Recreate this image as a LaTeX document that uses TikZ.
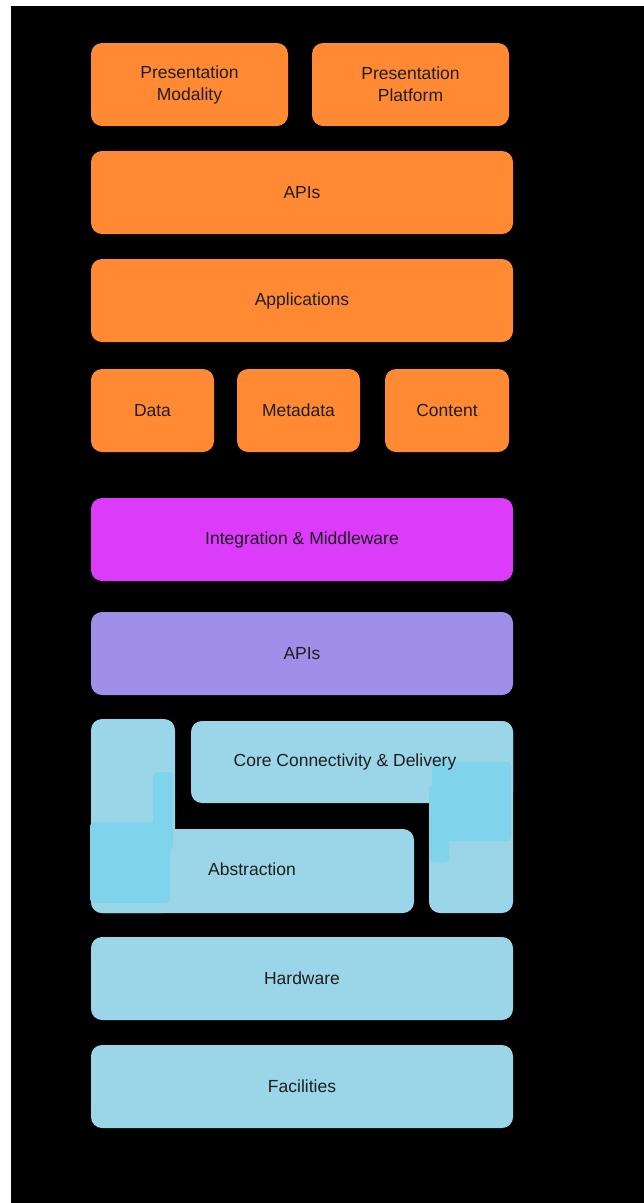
\documentclass[tikz,border=0pt]{standalone}
\usepackage{fontspec}
\setmainfont{Liberation Sans}
\definecolor{orng}{HTML}{FF8A33}
\definecolor{mgnt}{HTML}{DC3CFA}
\definecolor{prpl}{HTML}{A08FE8}
\definecolor{lblue}{HTML}{9BD5E8}
\definecolor{cyanp}{HTML}{7FD3EA}
\definecolor{txt}{HTML}{1E1E1E}
\tikzset{
  box/.style={rectangle, rounded corners=11pt, minimum height=83pt, inner sep=0pt,
    align=center, text=txt, font=\fontsize{17.5}{22}\selectfont},
  wide/.style={box, minimum width=422pt},
  lbl/.style={text=txt, inner sep=0pt, font=\fontsize{17.5}{22}\selectfont},
  patch/.style={fill=cyanp, rounded corners=4pt}
}
\begin{document}
\begin{tikzpicture}[x=1pt,y=-1pt]
\useasboundingbox (0,0) rectangle (644,1203);
\fill[white] (0,0) rectangle (644,1203);
\fill[black] (11,6) rectangle (644,1203);
% orange layer
\node[box, fill=orng, minimum width=197pt] (pm) at (189.5,84.5) {Presentation\\Modality};
\node[box, fill=orng, minimum width=197pt] (pp) at (410.5,84.5) {Presentation\\Platform};
\node[wide, fill=orng] (apis1) at (302,192.5) {APIs};
\node[wide, fill=orng] (apps) at (302,300.5) {Applications};
\node[box, fill=orng, minimum width=123pt] (data) at (152.5,410.5) {Data};
\node[box, fill=orng, minimum width=123pt] (meta) at (298.5,410.5) {Metadata};
\node[box, fill=orng, minimum width=124pt] (cont) at (447,410.5) {Content};
% middleware
\node[wide, fill=mgnt] (integ) at (302,539.5) {Integration \& Middleware};
\node[wide, fill=prpl] (apis2) at (302,653.5) {APIs};
% interlocking blue shapes
\fill[lblue, rounded corners=11pt] (91,719) rectangle (175,913);
\fill[lblue, rounded corners=11pt] (91,829) rectangle (414,913);
\fill[lblue, rounded corners=11pt] (191,721) rectangle (513,803);
\fill[lblue, rounded corners=11pt] (429,721) rectangle (513,913);
\fill[patch] (153,772) rectangle (173,850);
\fill[patch] (90,822) rectangle (170,903);
\fill[patch] (432,762) rectangle (511,841);
\fill[patch] (429,785) rectangle (449,862);
\node[lbl] (core) at (345,762) {Core Connectivity \& Delivery};
\node[lbl] (abs) at (252,869) {Abstraction};
% bottom
\node[wide, fill=lblue] (hw) at (302,978.5) {Hardware};
\node[wide, fill=lblue] (fac) at (302,1086.5) {Facilities};
\end{tikzpicture}
\end{document}
